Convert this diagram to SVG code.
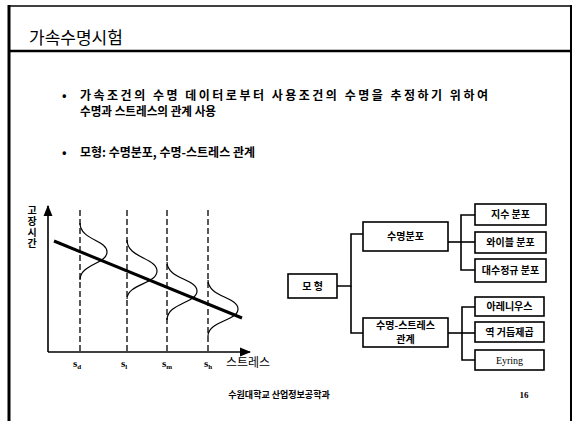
<svg xmlns="http://www.w3.org/2000/svg" width="579" height="421" viewBox="0 0 579 421">
<style>
.kr{font-family:"Noto Sans CJK KR","Noto Sans",sans-serif;fill:#000}
.b{font-weight:bold}
.box{fill:#fff;stroke:#000;stroke-width:1.6}
.con{fill:none;stroke:#000;stroke-width:1.6}
.frame{stroke:#000;fill:none}
.dash{stroke:#000;stroke-width:1.3;stroke-dasharray:6 3;fill:none}
.curve{fill:none;stroke:#000;stroke-width:1.2}
.lbl{font-family:"Noto Sans CJK KR",sans-serif;font-weight:bold;font-size:10px;text-anchor:middle}
.sv{font-family:"Liberation Serif",serif;font-weight:bold;font-size:11px}
</style>
<defs>
<marker id="ah" viewBox="0 0 10 10" refX="9" refY="5" markerWidth="7" markerHeight="7" orient="auto">
<path d="M0,1 L10,5 L0,9 Z" fill="#000"/>
</marker>
</defs>
<rect width="579" height="421" fill="#fff"/>
<!-- frame -->
<g id="frame">
<line class="frame" x1="8" y1="6" x2="572" y2="6" stroke-width="1.6"/>
<line class="frame" x1="8" y1="51" x2="572" y2="51" stroke-width="2.5"/>
<line class="frame" x1="9" y1="5" x2="9" y2="421" stroke-width="3"/>
<line class="frame" x1="571" y1="5" x2="571" y2="421" stroke-width="2"/>
</g>
<text class="kr" x="29" y="44" font-size="17">가속수명시험</text>
<!-- bullets -->
<g id="bullets" class="kr b" font-size="12">
<text x="62" y="100">•</text>
<text x="80" y="100" textLength="408" lengthAdjust="spacing">가속조건의 수명 데이터로부터 사용조건의 수명을 추정하기 위하여</text>
<text x="80" y="116" textLength="136" lengthAdjust="spacingAndGlyphs">수명과 스트레스의 관계 사용</text>
<text x="62" y="157">•</text>
<text x="80" y="157">모형: 수명분포, 수명-스트레스 관계</text>
</g>
<!-- graph -->
<g id="graph">
<line x1="48" y1="352" x2="48" y2="206" stroke="#000" stroke-width="1.6" marker-end="url(#ah)"/>
<line x1="48" y1="352" x2="250" y2="352" stroke="#000" stroke-width="1.6" marker-end="url(#ah)"/>
<line class="dash" x1="80" y1="210" x2="80" y2="352"/>
<line class="dash" x1="127" y1="210" x2="127" y2="352"/>
<line class="dash" x1="167" y1="210" x2="167" y2="352"/>
<line class="dash" x1="208" y1="210" x2="208" y2="352"/>
<path class="curve" d="M80,223 C80,240 107,240 107,252 C107,264 80,264 80,280"/>
<path class="curve" d="M127,240 C127,258 157,258 157,271 C157,284 127,284 127,299"/>
<path class="curve" d="M167,262 C167,279 197,279 197,291 C197,303 167,303 167,320"/>
<path class="curve" d="M208,280 C208,297 238,297 238,309 C238,321 208,321 208,336"/>
<line x1="54" y1="241" x2="242" y2="318" stroke="#000" stroke-width="3"/>
<text class="kr b" x="32" y="205" font-size="10" style="writing-mode:vertical-rl;text-orientation:upright" letter-spacing="1">고장시간</text>
<text class="kr" x="226" y="367" font-size="12">스트레스</text>
<text class="sv" x="73" y="367">s<tspan font-size="7" dy="2">d</tspan></text>
<text class="sv" x="121" y="367">s<tspan font-size="7" dy="2">l</tspan></text>
<text class="sv" x="162" y="367">s<tspan font-size="7" dy="2">m</tspan></text>
<text class="sv" x="204" y="367">s<tspan font-size="7" dy="2">h</tspan></text>
</g>
<!-- connectors -->
<g id="connectors">
<path class="con" d="M337,286 H351 V234 H363"/>
<path class="con" d="M351,286 V333 H363"/>
<path class="con" d="M448,242 H475"/>
<path class="con" d="M475,215 H461 V270 H475"/>
<path class="con" d="M448,333 H475"/>
<path class="con" d="M475,307 H462 V360 H475"/>
</g>
<!-- nodes -->
<g id="node-model"><rect class="box" x="288" y="274" width="49" height="24"/><text class="lbl" x="312.5" y="290">모 형</text></g>
<g id="node-lifedist"><rect class="box" x="363" y="222" width="85" height="29"/><text class="lbl" x="405.5" y="240">수명분포</text></g>
<g id="node-lsr"><rect class="box" x="363" y="318" width="85" height="29"/><text class="lbl" font-size="9.5"><tspan x="405.5" y="329">수명-스트레스</tspan><tspan x="405.5" y="343">관계</tspan></text></g>
<g id="node-exp"><rect class="box" x="475" y="204" width="71" height="21"/><text class="lbl" x="510.5" y="218">지수 분포</text></g>
<g id="node-weibull"><rect class="box" x="475" y="232" width="71" height="21"/><text class="lbl" x="510.5" y="246">와이블 분포</text></g>
<g id="node-lognormal"><rect class="box" x="475" y="259" width="71" height="23"/><text class="lbl" x="510.5" y="274">대수정규 분포</text></g>
<g id="node-arrhenius"><rect class="box" x="475" y="297" width="69" height="19"/><text class="lbl" x="509.5" y="310">아레니우스</text></g>
<g id="node-ipl"><rect class="box" x="475" y="322" width="69" height="20"/><text class="lbl" x="509.5" y="336">역 거듭제곱</text></g>
<g id="node-eyring"><rect class="box" x="475" y="350" width="69" height="20"/><text x="509.5" y="364" font-family="Liberation Serif,serif" font-size="10" text-anchor="middle">Eyring</text></g>
<!-- footer -->
<text class="kr b" x="279" y="398" font-size="9" text-anchor="middle">수원대학교 산업정보공학과</text>
<text x="524" y="398" font-family="Liberation Serif,serif" font-weight="bold" font-size="9" text-anchor="middle">16</text>
</svg>
